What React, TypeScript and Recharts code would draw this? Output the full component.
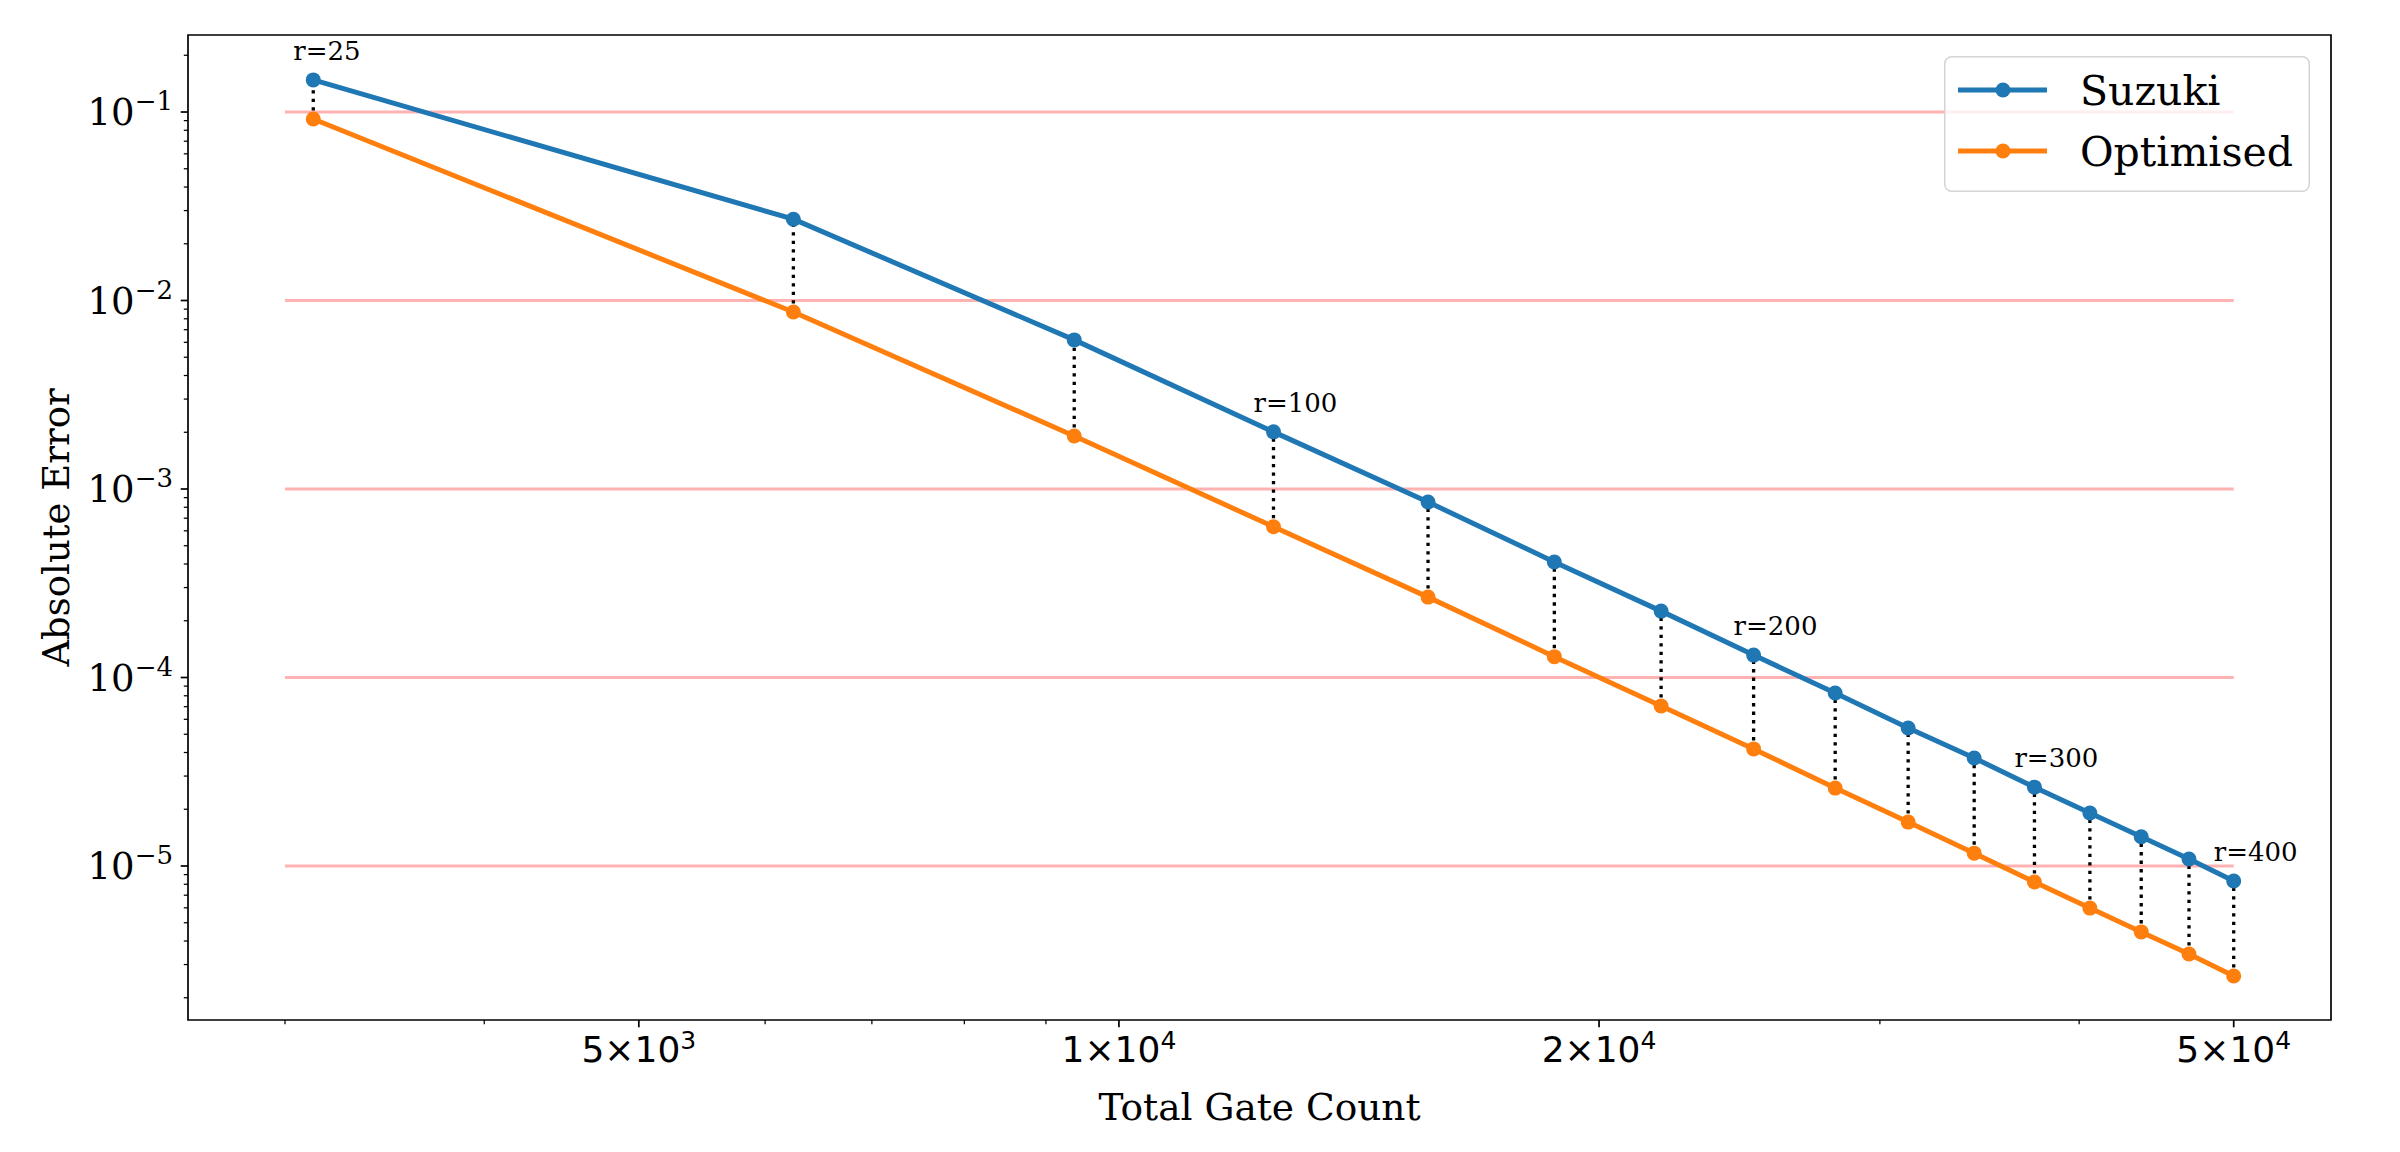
import React from "react";
import {
  LineChart,
  Line,
  XAxis,
  YAxis,
  ReferenceLine,
  ReferenceArea,
  LabelList,
  Legend,
} from "recharts";

// r = 25 ... 400, total gate count for each Trotter step number
const gateCounts = [
  3125, 6250, 9375, 12500, 15625, 18750, 21875, 25000, 28125, 31250, 34375,
  37500, 40625, 43750, 46875, 50000,
];
const suzukiError = [
  0.148, 0.027, 6.18e-3, 2.01e-3, 8.53e-4, 4.1e-4, 2.25e-4, 1.315e-4, 8.27e-5,
  5.4e-5, 3.74e-5, 2.62e-5, 1.91e-5, 1.43e-5, 1.09e-5, 8.32e-6,
];
const optimisedError = [
  0.0918, 8.69e-3, 1.91e-3, 6.31e-4, 2.67e-4, 1.29e-4, 7.06e-5, 4.18e-5,
  2.59e-5, 1.71e-5, 1.17e-5, 8.22e-6, 5.98e-6, 4.47e-6, 3.41e-6, 2.61e-6,
];
const rNotes = [
  "r=25", "", "", "r=100", "", "", "", "r=200", "", "", "", "r=300", "", "", "",
  "r=400",
];

// horizontal guide lines (decades), drawn from 3000 to 50000
const guideLevels = [1e-1, 1e-2, 1e-3, 1e-4, 1e-5];
const guideStart = 3000;
const guideEnd = 50000;

// ticks
const xMajorTicks = [5000, 10000, 20000, 50000];
const xMajorLabels = [
  ["5", "3"],
  ["1", "4"],
  ["2", "4"],
  ["5", "4"],
];
const xMinorTicks = [3000, 4000, 6000, 7000, 8000, 9000, 30000, 40000];
const yMajorTicks = [1e-1, 1e-2, 1e-3, 1e-4, 1e-5];
const yMajorLabels = ["1", "2", "3", "4", "5"];
const yMinorTicks: number[] = [];
[1e-6, 1e-5, 1e-4, 1e-3, 1e-2, 1e-1].forEach((d) => {
  for (let m = 2; m <= 9; m++) {
    const v = m * d;
    if (v > 1.53e-6 && v < 0.256) yMinorTicks.push(v);
  }
});

const X_DOMAIN = [2608, 57540];
const Y_DOMAIN = [1.524e-6, 0.2562];

const BLUE = "#1f77b4";
const ORANGE = "#ff7f0e";
const PINK = "#ffb2b2";
const SERIF = "'DejaVu Serif', serif";
const SANS = "'DejaVu Sans', sans-serif";
const LINE_W = 5;
const DOT_R = 7.5;

const data = gateCounts.map((g, i) => ({
  gates: g,
  suzuki: suzukiError[i],
  optimised: optimisedError[i],
  note: rNotes[i],
}));

const XTick = (props: any) => {
  const { x, y, payload } = props;
  const idx = xMajorTicks.indexOf(payload.value);
  const major = idx >= 0;
  return (
    <g>
      <line
        x1={x}
        x2={x}
        y1={y}
        y2={y + (major ? 7.3 : 4.2)}
        stroke="#000"
        strokeWidth={major ? 1.7 : 1.25}
      />
      {major && (
        <text
          x={x}
          y={y + 42}
          textAnchor="middle"
          fontFamily={SANS}
          fontSize={36}
          fill="#000"
        >
          {xMajorLabels[idx][0]}×10
          <tspan dy={-13} fontSize={25}>
            {xMajorLabels[idx][1]}
          </tspan>
        </text>
      )}
    </g>
  );
};

const YTick = (props: any) => {
  const { x, y, payload } = props;
  const idx = yMajorTicks.findIndex(
    (t) => Math.abs(t - payload.value) / t < 1e-6
  );
  const major = idx >= 0;
  return (
    <g>
      <line
        x1={x}
        x2={x - (major ? 7.3 : 4.2)}
        y1={y}
        y2={y}
        stroke="#000"
        strokeWidth={major ? 1.7 : 1.25}
      />
      {major && (
        <text
          x={x - 15}
          y={y + 13}
          textAnchor="end"
          fontFamily={SERIF}
          fontSize={37}
          fill="#000"
        >
          10
          <tspan dy={-15} fontSize={26}>
            {"\u2212" + yMajorLabels[idx]}
          </tspan>
        </text>
      )}
    </g>
  );
};

const renderNote = (props: any) => {
  const { x, y, value } = props;
  if (!value) return null;
  return (
    <text
      x={x - 20}
      y={y - 20}
      fontFamily={SERIF}
      fontSize={26}
      fill="#000"
    >
      {value}
    </text>
  );
};

const LegendBox = () => (
  <svg width={366} height={136} style={{ display: "block" }}>
    <rect
      x={0.75}
      y={0.75}
      width={364.5}
      height={134.5}
      rx={7}
      fill="rgba(255,255,255,0.8)"
      stroke="#d4d4d4"
      strokeWidth={1.5}
    />
    {[
      { name: "Suzuki", color: BLUE, y: 34 },
      { name: "Optimised", color: ORANGE, y: 95 },
    ].map((e) => (
      <g key={e.name}>
        <line x1={14} x2={103} y1={e.y} y2={e.y} stroke={e.color} strokeWidth={LINE_W} />
        <circle cx={59} cy={e.y} r={DOT_R} fill={e.color} />
        <text
          x={136}
          y={e.y + 15}
          fontFamily={SERIF}
          fontSize={41}
          fill="#000"
        >
          {e.name}
        </text>
      </g>
    ))}
  </svg>
);

export default function App() {
  return (
    <div
      style={{
        position: "absolute",
        left: 0,
        top: 0,
        width: 2400,
        height: 1152,
        background: "#fff",
      }}
    >
      <LineChart
        width={2400}
        height={1152}
        data={data}
        margin={{ top: 35, right: 69, bottom: 0, left: 0 }}
      >
        <XAxis
          dataKey="gates"
          type="number"
          scale="log"
          domain={X_DOMAIN}
          allowDataOverflow
          ticks={[...xMinorTicks, ...xMajorTicks].sort((a, b) => a - b)}
          interval={0}
          tick={<XTick />}
          tickLine={false}
          axisLine={false}
          tickSize={0}
          tickMargin={0}
          height={132}
          label={{
            value: "Total Gate Count",
            position: "insideBottom",
            offset: 32,
            fontFamily: SERIF,
            fontSize: 37.5,
            fill: "#000",
          }}
        />
        <YAxis
          type="number"
          scale="log"
          domain={Y_DOMAIN}
          allowDataOverflow
          ticks={[...yMinorTicks, ...yMajorTicks].sort((a, b) => a - b)}
          interval={0}
          tick={<YTick />}
          tickLine={false}
          axisLine={false}
          tickSize={0}
          tickMargin={0}
          width={188}
          label={{
            value: "Absolute Error",
            angle: -90,
            position: "insideLeft",
            offset: 56,
            fontFamily: SERIF,
            fontSize: 37,
            fill: "#000",
            style: { textAnchor: "middle" },
          }}
        />

        {guideLevels.map((lv) => (
          <ReferenceLine
            key={`guide-${lv}`}
            segment={[
              { x: guideStart, y: lv },
              { x: guideEnd, y: lv },
            ]}
            stroke={PINK}
            strokeWidth={3.1}
          />
        ))}

        {/* dotted connectors between the two methods */}
        {data.map((d) => (
          <ReferenceLine
            key={`gap-${d.gates}`}
            segment={[
              { x: d.gates, y: d.optimised },
              { x: d.gates, y: d.suzuki },
            ]}
            stroke="#000"
            strokeWidth={3.3}
            strokeDasharray="3.3 5.2"
          />
        ))}

        <Line
          dataKey="suzuki"
          name="Suzuki"
          stroke={BLUE}
          strokeWidth={LINE_W}
          dot={{ r: DOT_R, fill: BLUE, stroke: BLUE, strokeWidth: 0 }}
          activeDot={false}
          isAnimationActive={false}
        >
          <LabelList dataKey="note" content={renderNote} />
        </Line>
        <Line
          dataKey="optimised"
          name="Optimised"
          stroke={ORANGE}
          strokeWidth={LINE_W}
          dot={{ r: DOT_R, fill: ORANGE, stroke: ORANGE, strokeWidth: 0 }}
          activeDot={false}
          isAnimationActive={false}
        />

        <ReferenceArea
          x1={X_DOMAIN[0]}
          x2={X_DOMAIN[1]}
          y1={Y_DOMAIN[0]}
          y2={Y_DOMAIN[1]}
          fill="none"
          stroke="#000"
          strokeWidth={1.7}
          ifOverflow="visible"
        />

        <Legend
          layout="vertical"
          align="center"
          verticalAlign="middle"
          content={() => <LegendBox />}
          wrapperStyle={{ left: 1944, top: 56, width: 366, height: 136 }}
        />
      </LineChart>
    </div>
  );
}
